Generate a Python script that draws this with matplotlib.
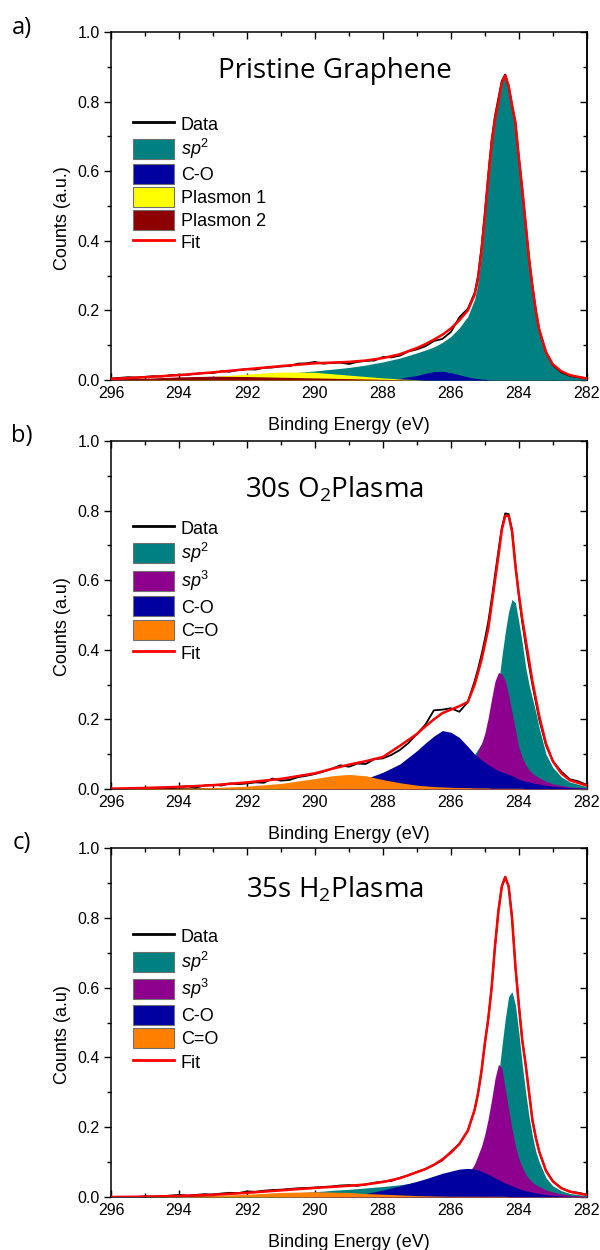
import matplotlib
matplotlib.use('Agg')
import matplotlib.pyplot as plt
from matplotlib.lines import Line2D
from matplotlib.patches import Patch
from matplotlib.ticker import MultipleLocator, FormatStrFormatter
import numpy as np

plt.rcParams['font.family'] = ['Liberation Sans', 'DejaVu Sans']
plt.rcParams['mathtext.fontset'] = 'custom'
plt.rcParams['mathtext.rm'] = 'Liberation Sans'
plt.rcParams['mathtext.it'] = 'Liberation Sans:italic'
plt.rcParams['mathtext.bf'] = 'Liberation Sans:bold'

# binding energy grid used for the fitted components (eV)
be = [296, 295, 294, 293, 292, 291, 290,
      289.5, 289, 288.5, 288, 287.5, 287, 286.75,
      286.5, 286.25, 286, 285.75, 285.5, 285.3,
      285.2, 285.1, 285.0, 284.9, 284.8, 284.7, 284.6, 284.5, 284.4,
      284.3, 284.2, 284.1, 284.0, 283.9, 283.8, 283.7, 283.6, 283.5, 283.4,
      283.2, 283.0, 282.75, 282.5, 282.0]

# binding energy grid of the measured data (eV)
be_data = [296.0, 295.75, 295.5, 295.25, 295.0, 294.75, 294.5, 294.25, 294.0,
           293.75, 293.5, 293.25, 293.0, 292.75, 292.5, 292.25, 292.0,
           291.75, 291.5, 291.25, 291.0, 290.75, 290.5, 290.25, 290.0,
           289.75, 289.5, 289.25, 289.0, 288.75, 288.5, 288.25, 288.0,
           287.75, 287.5, 287.25, 287.0, 286.75, 286.5, 286.25, 286.0,
           285.75, 285.5, 285.3,
           285.2, 285.1, 285.0, 284.9, 284.8, 284.7, 284.6, 284.5, 284.4,
           284.3, 284.2, 284.1, 284.0, 283.9, 283.8, 283.7, 283.6, 283.5, 283.4,
           283.2, 283.0, 282.75, 282.5, 282.25, 282.0]

# ---- a) pristine graphene ----
data_a = [0.004, 0.006, 0.008, 0.007, 0.009, 0.011, 0.010, 0.014, 0.015,
          0.015, 0.018, 0.020, 0.020, 0.025, 0.024, 0.029, 0.031,
          0.030, 0.035, 0.036, 0.039, 0.040, 0.047, 0.048, 0.052,
          0.047, 0.049, 0.050, 0.046, 0.052, 0.055, 0.056, 0.066,
          0.065, 0.070, 0.082, 0.088, 0.097, 0.112, 0.118, 0.138,
          0.180, 0.205, 0.250,
          0.30, 0.38, 0.48, 0.59, 0.69, 0.76, 0.81, 0.86, 0.878,
          0.845, 0.79, 0.74, 0.64, 0.55, 0.45, 0.35, 0.27, 0.20, 0.145,
          0.08, 0.043, 0.022, 0.012, 0.008, 0.005]
fit_a = [0.003, 0.008, 0.014, 0.022, 0.031, 0.040, 0.048,
         0.050, 0.052, 0.056, 0.063, 0.074, 0.092, 0.103,
         0.116, 0.130, 0.148, 0.172, 0.200, 0.245,
         0.29, 0.37, 0.47, 0.58, 0.68, 0.75, 0.80, 0.855, 0.875,
         0.845, 0.79, 0.74, 0.64, 0.55, 0.45, 0.35, 0.27, 0.20, 0.145,
         0.08, 0.045, 0.025, 0.014, 0.004]
sp2_a = [0.002, 0.003, 0.005, 0.008, 0.012, 0.018, 0.026,
         0.031, 0.036, 0.043, 0.052, 0.063, 0.078, 0.086,
         0.095, 0.108, 0.125, 0.150, 0.183, 0.232,
         0.28, 0.362, 0.464, 0.576, 0.678, 0.75, 0.80, 0.855, 0.875,
         0.845, 0.79, 0.74, 0.64, 0.55, 0.45, 0.35, 0.27, 0.20, 0.145,
         0.08, 0.045, 0.025, 0.014, 0.004]
co_a = [0, 0, 0, 0, 0, 0, 0,
        0, 0, 0, 0.001, 0.005, 0.013, 0.019,
        0.024, 0.025, 0.021, 0.015, 0.009, 0.005,
        0.004, 0.003, 0.002, 0.001, 0, 0, 0, 0, 0,
        0, 0, 0, 0, 0, 0, 0, 0, 0, 0,
        0, 0, 0, 0, 0]
plasmon1_a = [0, 0.001, 0.004, 0.010, 0.017, 0.023, 0.022,
              0.018, 0.014, 0.010, 0.006, 0.003, 0.001, 0,
              0, 0, 0, 0, 0, 0,
              0, 0, 0, 0, 0, 0, 0, 0, 0,
              0, 0, 0, 0, 0, 0, 0, 0, 0, 0,
              0, 0, 0, 0, 0]
plasmon2_a = [0.002, 0.005, 0.009, 0.011, 0.010, 0.008, 0.006,
              0.005, 0.004, 0.003, 0.002, 0.001, 0, 0,
              0, 0, 0, 0, 0, 0,
              0, 0, 0, 0, 0, 0, 0, 0, 0,
              0, 0, 0, 0, 0, 0, 0, 0, 0, 0,
              0, 0, 0, 0, 0]

# ---- b) 30 s O2 plasma ----
data_b = [np.nan, np.nan, np.nan, 0.000, 0.003, -0.002, 0.004, 0.001, 0.006,
          0.008, 0.004, 0.010, 0.012, 0.010, 0.016, 0.014, 0.016,
          0.019, 0.018, 0.030, 0.024, 0.026, 0.034, 0.038, 0.043,
          0.050, 0.058, 0.068, 0.064, 0.073, 0.072, 0.086, 0.088,
          0.098, 0.112, 0.132, 0.158, 0.185, 0.226, 0.228, 0.232,
          0.222, 0.25, 0.31,
          0.345, 0.385, 0.43, 0.48, 0.545, 0.615, 0.685, 0.75, 0.792,
          0.79, 0.745, 0.645, 0.555, 0.48, 0.415, 0.355, 0.30, 0.25, 0.20,
          0.125, 0.08, 0.05, 0.028, 0.022, 0.012]
fit_b = [0.001, 0.003, 0.006, 0.011, 0.019, 0.029, 0.045,
         0.058, 0.070, 0.080, 0.092, 0.124, 0.158, 0.180,
         0.200, 0.218, 0.228, 0.238, 0.250, 0.30,
         0.335, 0.37, 0.415, 0.46, 0.53, 0.60, 0.67, 0.745, 0.785,
         0.785, 0.74, 0.64, 0.56, 0.49, 0.43, 0.37, 0.31, 0.26, 0.21,
         0.13, 0.08, 0.045, 0.025, 0.01]
sp2_b = [0, 0, 0.001, 0.002, 0.003, 0.005, 0.007,
         0.008, 0.010, 0.012, 0.015, 0.018, 0.022, 0.025,
         0.028, 0.033, 0.038, 0.050, 0.070, 0.100,
         0.115, 0.13, 0.145, 0.165, 0.195, 0.24, 0.30, 0.38, 0.45,
         0.51, 0.545, 0.535, 0.48, 0.42, 0.35, 0.30, 0.26, 0.22, 0.175,
         0.10, 0.062, 0.035, 0.02, 0.007]
sp3_b = [0, 0, 0, 0, 0, 0, 0.001,
         0.001, 0.002, 0.003, 0.005, 0.007, 0.010, 0.011,
         0.013, 0.015, 0.017, 0.026, 0.045, 0.085,
         0.11, 0.13, 0.16, 0.205, 0.26, 0.31, 0.335, 0.33, 0.31,
         0.27, 0.22, 0.17, 0.12, 0.09, 0.07, 0.055, 0.045, 0.038, 0.032,
         0.022, 0.015, 0.01, 0.006, 0.002]
co_b = [0, 0, 0, 0, 0, 0, 0.003,
        0.008, 0.015, 0.03, 0.048, 0.072, 0.11, 0.132,
        0.152, 0.168, 0.163, 0.148, 0.122, 0.10,
        0.092, 0.084, 0.077, 0.07, 0.064, 0.058, 0.053, 0.049, 0.046,
        0.042, 0.038, 0.034, 0.028, 0.025, 0.022, 0.02, 0.018, 0.016, 0.014,
        0.011, 0.008, 0.006, 0.004, 0.002]
cdo_b = [0, 0.001, 0.002, 0.004, 0.008, 0.016, 0.030,
         0.038, 0.042, 0.038, 0.027, 0.018, 0.011, 0.009,
         0.007, 0.006, 0.005, 0.004, 0.004, 0.003,
         0.003, 0.003, 0.003, 0.003, 0.002, 0.002, 0.002, 0.002, 0.002,
         0.002, 0.002, 0.002, 0.002, 0.002, 0.001, 0.001, 0.001, 0.001, 0.001,
         0.001, 0.001, 0.001, 0.001, 0.001]

# ---- c) 35 s H2 plasma ----
data_c = [np.nan, np.nan, np.nan, 0.000, 0.002, 0.001, 0.002, 0.004, 0.006,
          0.004, 0.006, 0.008, 0.007, 0.010, 0.012, 0.011, 0.016,
          0.015, 0.018, 0.020, 0.021, 0.023, 0.025, 0.026, 0.027,
          0.029, 0.030, 0.033, 0.034, 0.032, 0.036, 0.041, 0.044,
          0.046, 0.055, 0.062, 0.072, 0.080, 0.092, 0.105, 0.130,
          0.152, 0.19, 0.25,
          0.297, 0.36, 0.44, 0.51, 0.60, 0.72, 0.82, 0.89, 0.917,
          0.89, 0.80, 0.66, 0.55, 0.45, 0.38, 0.30, 0.22, 0.17, 0.13,
          0.075, 0.045, 0.026, 0.016, 0.012, 0.007]
fit_c = [0.0, 0.001, 0.003, 0.006, 0.012, 0.019, 0.026,
         0.029, 0.032, 0.036, 0.043, 0.054, 0.071, 0.080,
         0.092, 0.108, 0.127, 0.152, 0.19, 0.25,
         0.297, 0.36, 0.44, 0.51, 0.60, 0.72, 0.82, 0.89, 0.917,
         0.89, 0.80, 0.66, 0.55, 0.45, 0.38, 0.30, 0.22, 0.17, 0.13,
         0.075, 0.045, 0.025, 0.015, 0.006]
sp2_c = [0, 0, 0.001, 0.003, 0.006, 0.01, 0.015,
         0.019, 0.022, 0.026, 0.03, 0.035, 0.042, 0.046,
         0.05, 0.054, 0.058, 0.065, 0.075, 0.088,
         0.1, 0.115, 0.135, 0.165, 0.21, 0.27, 0.345, 0.43, 0.51,
         0.575, 0.588, 0.55, 0.47, 0.38, 0.30, 0.23, 0.175, 0.13, 0.10,
         0.055, 0.032, 0.018, 0.01, 0.004]
sp3_c = [0, 0, 0, 0, 0, 0, 0.001,
         0.001, 0.002, 0.003, 0.004, 0.006, 0.01, 0.014,
         0.018, 0.024, 0.03, 0.04, 0.06, 0.095,
         0.12, 0.145, 0.18, 0.225, 0.28, 0.34, 0.38, 0.37, 0.31,
         0.25, 0.195, 0.145, 0.11, 0.085, 0.065, 0.052, 0.042, 0.035, 0.03,
         0.02, 0.014, 0.009, 0.005, 0.002]
co_c = [0, 0, 0, 0, 0, 0, 0,
        0.001, 0.004, 0.01, 0.02, 0.032, 0.045, 0.052,
        0.06, 0.068, 0.074, 0.08, 0.082, 0.08,
        0.078, 0.074, 0.07, 0.065, 0.06, 0.055, 0.05, 0.045, 0.04,
        0.036, 0.032, 0.028, 0.024, 0.021, 0.018, 0.016, 0.014, 0.012, 0.01,
        0.007, 0.005, 0.003, 0.002, 0.001]
cdo_c = [0, 0, 0.001, 0.004, 0.008, 0.013, 0.015,
         0.014, 0.013, 0.01, 0.008, 0.006, 0.004, 0.0035,
         0.003, 0.0025, 0.002, 0.002, 0.002, 0.002,
         0.002, 0.002, 0.002, 0.002, 0.002, 0.002, 0.002, 0.002, 0.002,
         0.001, 0.001, 0.001, 0.001, 0.001, 0.001, 0.001, 0.001, 0.001, 0.001,
         0.001, 0.001, 0.001, 0.001, 0.001]

TEAL = '#008080'
BLUE = '#0000A0'
YELLOW = '#FFFF00'
DARKRED = '#8E0000'
PURPLE = '#8E008E'
ORANGE = '#FF8000'

fig = plt.figure(figsize=(6, 12.5), dpi=100)


def draw_panel(rect, comps, fit, data, title, title_y, ylabel, letter, letter_y, leg_top, leg_space):
    ax = fig.add_axes(rect)
    for y, col, lab in comps:
        ax.fill_between(be, 0, y, color=col, lw=0, zorder=3)
    ax.plot(be_data, data, color='black', lw=1.3, zorder=4)
    ax.plot(be, fit, color='#FF0000', lw=1.8, zorder=5)

    ax.set_xlim(296, 282)
    ax.set_ylim(0, 1.0)
    ax.xaxis.set_major_locator(MultipleLocator(2))
    ax.xaxis.set_minor_locator(MultipleLocator(1))
    ax.yaxis.set_major_locator(MultipleLocator(0.2))
    ax.yaxis.set_minor_locator(MultipleLocator(0.1))
    ax.yaxis.set_major_formatter(FormatStrFormatter('%.1f'))
    ax.tick_params(axis='x', which='both', direction='in', top=True, labelsize=11.5, pad=4)
    ax.tick_params(axis='y', which='both', direction='out', right=False, labelsize=11.5, pad=3)
    ax.tick_params(which='major', length=5, width=1)
    ax.tick_params(which='minor', length=3, width=1)
    sec = ax.secondary_yaxis('right')
    sec.yaxis.set_major_locator(MultipleLocator(0.2))
    sec.yaxis.set_minor_locator(MultipleLocator(0.1))
    sec.tick_params(which='both', direction='in', labelright=False)
    sec.tick_params(which='major', length=5, width=1)
    sec.tick_params(which='minor', length=3, width=1)
    for s in list(ax.spines.values()) + list(sec.spines.values()):
        s.set_linewidth(1.1)

    ax.set_xlabel('Binding Energy (eV)', fontsize=13)
    ax.xaxis.set_label_coords(0.5, -0.105)
    ax.set_ylabel(ylabel, fontsize=13)
    ax.yaxis.set_label_coords(-0.085, 0.466)

    ax.text(0.47, title_y, title, transform=ax.transAxes, ha='center', va='baseline',
            fontsize=20, family='Open Sans', zorder=6)
    fig.text(0.037, letter_y, letter, ha='center', va='center', fontsize=17, family='Open Sans')

    handles = [Line2D([], [], color='black', lw=2, label='Data')]
    for y, col, lab in comps:
        handles.append(Patch(facecolor=col, edgecolor='#707070', lw=0.8, label=lab))
    handles.append(Line2D([], [], color='#FF0000', lw=2, label='Fit'))
    ax.legend(handles=handles, loc='upper left', bbox_to_anchor=(0.046, leg_top),
              frameon=False, fontsize=13, handlelength=2.25, handleheight=1.33,
              handletextpad=0.4, labelspacing=leg_space, borderpad=0, borderaxespad=0)
    return ax


draw_panel([0.185, 0.696, 0.793, 0.2784],
           [(sp2_a, TEAL, r'$sp^{2}$'), (co_a, BLUE, 'C-O'),
            (plasmon1_a, YELLOW, 'Plasmon 1'), (plasmon2_a, DARKRED, 'Plasmon 2')],
           fit_a, data_a, 'Pristine Graphene', 0.868, 'Counts (a.u.)',
           'a)', 0.9776, 0.764, 0.155)

draw_panel([0.185, 0.3688, 0.793, 0.2784],
           [(sp2_b, TEAL, r'$sp^{2}$'), (sp3_b, PURPLE, r'$sp^{3}$'),
            (co_b, BLUE, 'C-O'), (cdo_b, ORANGE, 'C=O')],
           fit_b, data_b, r'30s O$_{\mathregular{2}}$Plasma', 0.839, 'Counts (a.u)',
           'b)', 0.651, 0.779, 0.19)

draw_panel([0.185, 0.0424, 0.793, 0.2792],
           [(sp2_c, TEAL, r'$sp^{2}$'), (sp3_c, PURPLE, r'$sp^{3}$'),
            (co_c, BLUE, 'C-O'), (cdo_c, ORANGE, 'C=O')],
           fit_c, data_c, r'35s H$_{\mathregular{2}}$Plasma', 0.857, 'Counts (a.u)',
           'c)', 0.3256, 0.776, 0.19)

fig.savefig('out.png', dpi=100, facecolor='white')
